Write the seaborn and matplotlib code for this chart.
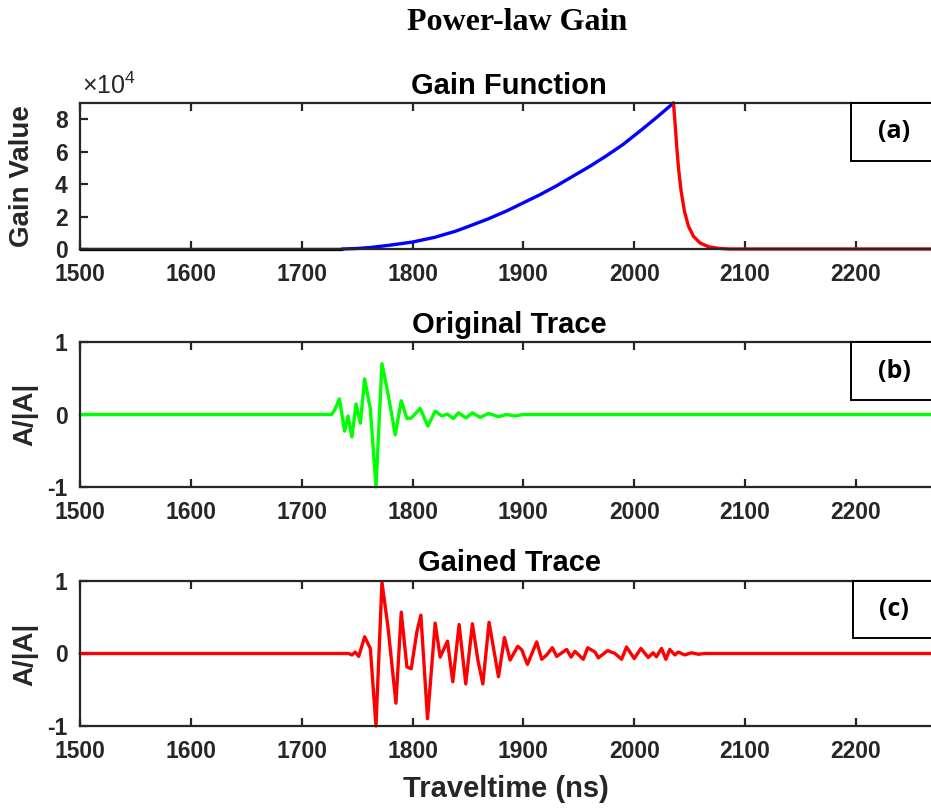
import matplotlib
matplotlib.use("Agg")
import matplotlib.pyplot as plt
from matplotlib.patches import Rectangle
from matplotlib.ticker import FuncFormatter, FixedLocator
from matplotlib import font_manager
import seaborn as sns

# ---------------- data ----------------
# gain function (traveltime in ns, gain value)
pre_t = [1500.0, 1736.4]
pre_g = [0.0, 0.0]

rise_t = [1736.4, 1750, 1763, 1780, 1800, 1820, 1838, 1850, 1868, 1885, 1900,
          1915, 1930, 1945, 1960, 1975, 1990, 2006.8, 2020, 2035.4]
rise_g = [0, 300, 1000, 2400, 4300, 7200, 10800, 13800, 18500, 23500, 28500,
          33500, 39000, 45000, 51000, 57500, 64500, 73600, 81000, 90000]

decay_t = [2035.4, 2036.9, 2038.4, 2039.9, 2042.3, 2045.3, 2048.9, 2053.4,
           2059.4, 2066.9, 2076.0, 2085.0, 2274.0]
decay_g = [90000, 76600, 62300, 49900, 35500, 23200, 14000, 7800,
           3700, 1400, 400, 0, 0]

# normalised original trace
orig_t = [1500, 1727, 1730, 1734, 1738.7, 1741.7, 1745.3, 1749, 1752.9, 1756.8,
          1761.9, 1767, 1772.4, 1777.8, 1784.4, 1789.8, 1794.9, 1798.8, 1806.9,
          1813.8, 1820.4, 1826.4, 1831.5, 1836.9, 1841.4, 1848.3, 1854, 1861,
          1868.5, 1877.5, 1885, 1892.5, 1900, 2274]
orig_a = [0, 0, 0.07, 0.215, -0.23, -0.02, -0.31, 0.145, -0.12, 0.49,
          0.08, -1.0, 0.70, 0.29, -0.28, 0.19, -0.056, -0.05, 0.084,
          -0.16, 0.047, -0.02, 0.005, -0.056, 0.023, -0.047, 0.023, -0.04,
          0.014, -0.03, 0.0, -0.02, 0.0, 0]

# normalised gained trace
gain_t = [1500, 1742.3, 1745.3, 1748.3, 1751.4, 1756.8, 1761.9, 1767, 1772.4,
          1777.8, 1785, 1789.8, 1794.9, 1798.8, 1803.9, 1807.5, 1813.5, 1820.4,
          1824.9, 1831.5, 1836.3, 1842, 1848, 1854, 1858.9, 1863.4, 1869,
          1877.5, 1882.9, 1888, 1894.9, 1898.5, 1903.6, 1912, 1916.5, 1921,
          1926.1, 1930, 1939, 1943, 1946.5, 1954, 1958, 1964.6, 1967.6, 1976,
          1982.6, 1988.6, 1993, 2000, 2006, 2012.6, 2017, 2020, 2024.6, 2028.5,
          2032, 2036.6, 2039.6, 2045.6, 2051.6, 2057.7, 2063.7, 2274]
gain_a = [0, 0, -0.02, 0.02, -0.04, 0.23, 0.07, -1.0, 0.98,
          0.37, -0.685, 0.57, -0.185, -0.21, 0.30, 0.53, -0.90, 0.42,
          -0.05, 0.17, -0.39, 0.40, -0.42, 0.41, -0.09, -0.42, 0.43,
          -0.32, 0.22, -0.09, 0.10, 0.05, -0.15, 0.16, -0.08, -0.02,
          0.08, -0.04, 0.056, -0.05, 0.03, -0.08, 0.08, 0.02, -0.06, 0.04,
          0.0, -0.08, 0.09, -0.07, 0.07, -0.055, 0.01, -0.045, 0.07, -0.08,
          0.056, -0.02, 0.02, -0.02, 0.01, -0.01, 0.0, 0]

x_ticks = [1500, 1600, 1700, 1800, 1900, 2000, 2100, 2200]
gain_ticks = [0, 20000, 40000, 60000, 80000]
amp_ticks = [-1, 0, 1]
x_range = (1500, 2274)

panel_titles = ["Gain Function", "Original Trace", "Gained Trace"]
panel_tags = ["(a)", "(b)", "(c)"]

# ---------------- style ----------------
sns.set_theme(style="white")
installed = {f.name for f in font_manager.fontManager.ttflist}
narrow = "Liberation Sans Narrow" if "Liberation Sans Narrow" in installed else "Liberation Sans"
plt.rcParams["font.family"] = [narrow, "DejaVu Sans"]
plt.rcParams["axes.unicode_minus"] = False
plt.rcParams["mathtext.fontset"] = "custom"
plt.rcParams["mathtext.rm"] = "Liberation Sans"

INK = "#262626"
W, H = 931, 811
fig = plt.figure(figsize=(W / 100, H / 100), dpi=100)
fig.patch.set_facecolor("white")


def frame(top, bottom):
    return [80 / W, 1 - bottom / H, (938 - 80) / W, (bottom - top) / H]


ax_a = fig.add_axes(frame(103, 249))
ax_b = fig.add_axes(frame(342, 487))
ax_c = fig.add_axes(frame(581, 726))
axes = [ax_a, ax_b, ax_c]

LW = 2.4
sns.lineplot(x=pre_t, y=pre_g, ax=ax_a, color="black", linewidth=LW, estimator=None, sort=False)
sns.lineplot(x=rise_t, y=rise_g, ax=ax_a, color="#0000ff", linewidth=LW, estimator=None, sort=False)
sns.lineplot(x=decay_t, y=decay_g, ax=ax_a, color="#ff0000", linewidth=LW, estimator=None, sort=False)
sns.lineplot(x=orig_t, y=orig_a, ax=ax_b, color="#00ff00", linewidth=LW, estimator=None, sort=False)
sns.lineplot(x=gain_t, y=gain_a, ax=ax_c, color="#ff0000", linewidth=LW, estimator=None, sort=False)

ax_a.set_ylim(0, 90000)
ax_a.yaxis.set_major_locator(FixedLocator(gain_ticks))
ax_a.yaxis.set_major_formatter(FuncFormatter(lambda v, p: f"{v / 1e4:g}"))
for ax in (ax_b, ax_c):
    ax.set_ylim(-1, 1)
    ax.yaxis.set_major_locator(FixedLocator(amp_ticks))
    ax.yaxis.set_major_formatter(FuncFormatter(lambda v, p: f"{v:g}"))

for ax in axes:
    ax.set_xlim(*x_range)
    ax.xaxis.set_major_locator(FixedLocator(x_ticks))
    ax.set_xlabel("")
    ax.set_ylabel("")
    ax.set_facecolor("white")
    for side in ("left", "bottom", "top"):
        ax.spines[side].set_visible(True)
        ax.spines[side].set_color(INK)
        ax.spines[side].set_linewidth(1.6)
    ax.spines["right"].set_visible(False)
    ax.tick_params(axis="both", direction="in", length=6, width=1.6, color=INK,
                   labelcolor=INK, labelsize=16.5, top=True, bottom=True, left=True)
    ax.tick_params(axis="x", pad=10)
    ax.tick_params(axis="y", pad=9)
    for lab in ax.get_xticklabels() + ax.get_yticklabels():
        lab.set_fontweight("bold")
    for ln in ax.get_lines():
        ln.set_clip_on(False)

# panel titles
title_y = [86, 325, 563]
for t, y in zip(panel_titles, title_y):
    fig.text(509 / W, 1 - y / H, t, ha="center", va="center", fontsize=21,
             fontweight="bold", color="black")

# y labels
fig.text(22 / W, 1 - 176 / H, "Gain Value", rotation=90, ha="center", va="center",
         fontsize=20, fontweight="bold", color=INK, family=["Liberation Sans", "DejaVu Sans"])
for yc in (414, 654):
    fig.text(25 / W, 1 - yc / H, "A/|A|", rotation=90, ha="center", va="center",
             fontsize=20, fontweight="bold", color=INK, family=["Liberation Sans", "DejaVu Sans"])

# exponent for the gain axis
fig.text(82 / W, 1 - 86 / H, r"$\times10^{4}$", ha="left", va="center",
         fontsize=18, color=INK)

# x label
fig.text(506 / W, 1 - 789 / H, "Traveltime (ns)", ha="center", va="center",
         fontsize=21, fontweight="bold", color=INK)

# figure title
fig.text(517 / W, 1 - 22 / H, "Power-law Gain", ha="center", va="center",
         fontsize=23, fontweight="bold", color="black",
         family=["Liberation Serif", "DejaVu Serif"])

# panel tags in boxes
tag_boxes = [(851, 103, 161), (851, 342, 400), (853, 581, 638)]
for tag, (x0, top, bot) in zip(panel_tags, tag_boxes):
    fig.patches.append(Rectangle((x0 / W, 1 - bot / H), (960 - x0) / W, (bot - top) / H,
                                 transform=fig.transFigure, facecolor="white",
                                 edgecolor="black", linewidth=1.4, zorder=5))
    fig.text(894 / W, 1 - (top + bot) / 2 / H, tag, ha="center", va="center",
             fontsize=18, fontweight="bold", color="black", zorder=6,
             family=["Open Sans", "Lato", "DejaVu Sans"])

fig.savefig("out.png", dpi=100, facecolor="white")
